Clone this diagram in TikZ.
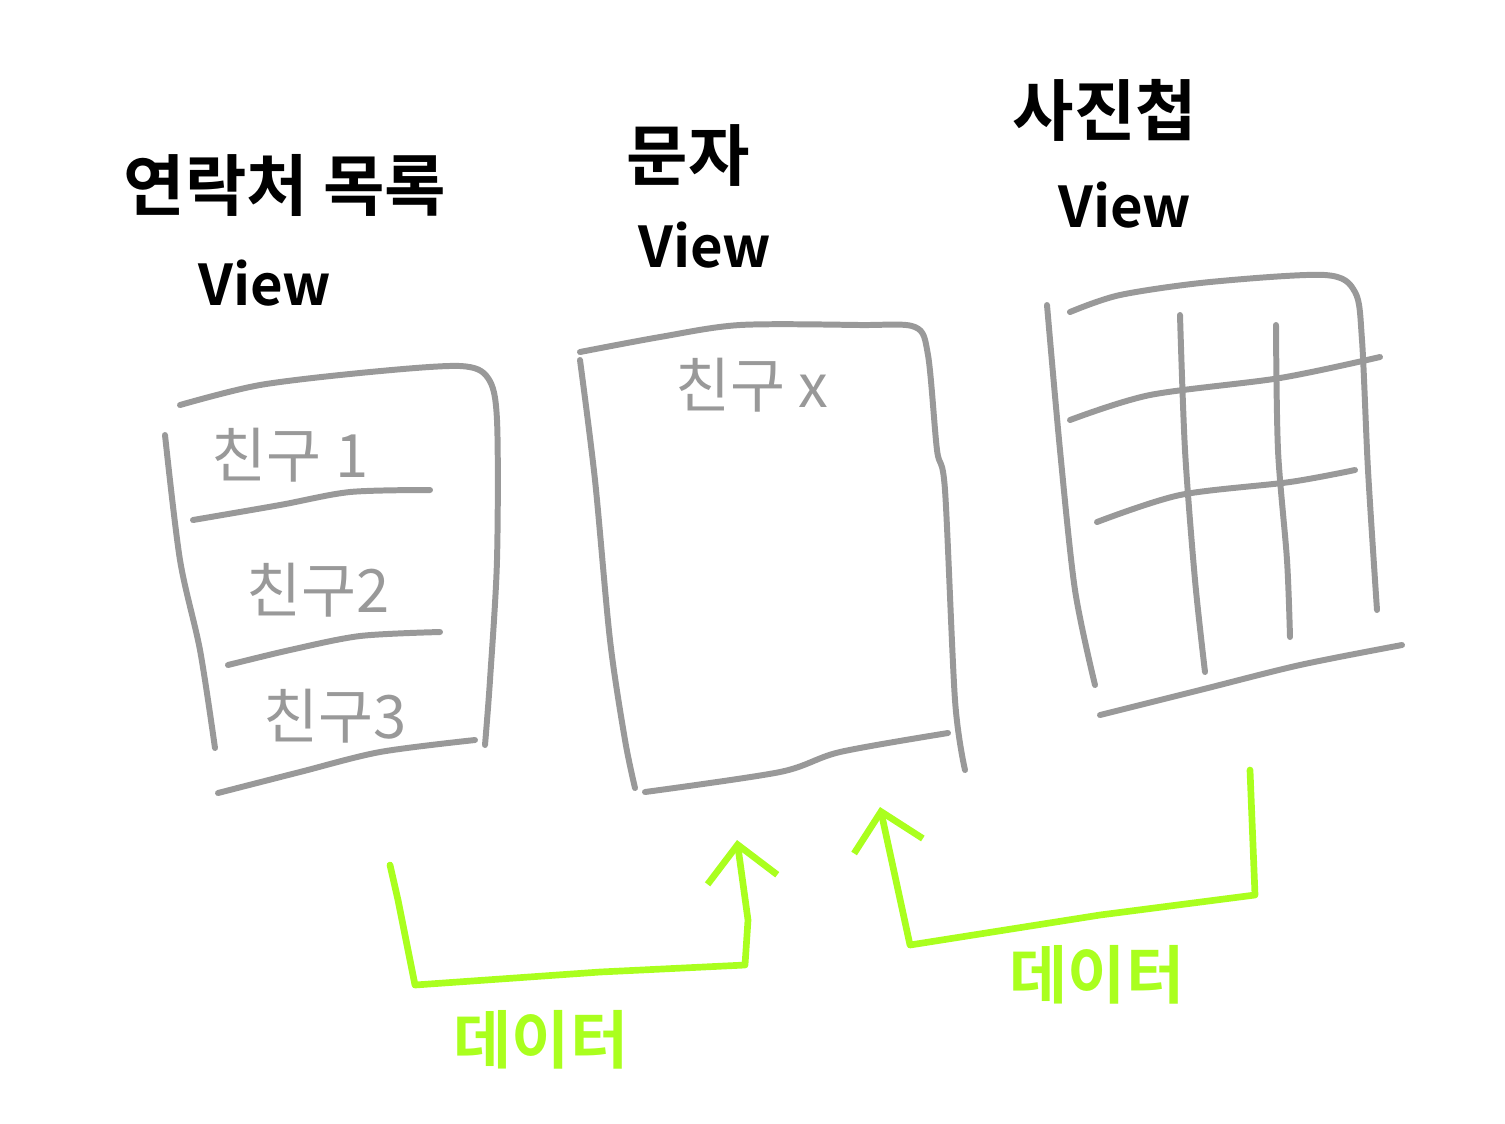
\documentclass[tikz,border=0pt]{standalone}
\usepackage{fontspec}
\setmainfont{Noto Sans CJK KR}
\newfontfamily\boldcjk{Noto Sans CJK KR Bold}
\usetikzlibrary{arrows.meta}
\definecolor{sketchgray}{HTML}{999999}
\definecolor{sketchgreen}{HTML}{AAFF1E}
\begin{document}
\begin{tikzpicture}[x=0.01cm,y=-0.01cm]
        \tikzset{
            frame/.style={draw=sketchgray,line width=1.7pt,line cap=round,line join=round},
            flow/.style={draw=sketchgreen,line width=1.9pt,line cap=round,line join=round,-{Straight Barb[length=10pt,width=20pt,line width=1.9pt]}},
            title/.style={font=\boldcjk\fontsize{19}{22}\selectfont,text=black},
            viewlbl/.style={font=\boldcjk\fontsize{16}{19}\selectfont,text=black},
            item/.style={font=\fontsize{17}{20}\selectfont,text=sketchgray},
            datalbl/.style={font=\boldcjk\fontsize{18}{21}\selectfont,text=sketchgreen}
        }
        \useasboundingbox (0,0) rectangle (1505,1123);
        % titles
        \node[title] (contactT) at (285,185) {연락처 목록};
        \node[viewlbl] (contactV) at (265,283) {View};
        \node[title] (msgT) at (688,155) {문자};
        \node[viewlbl] (msgV) at (705,245) {View};
        \node[title] (albumT) at (1105,110) {사진첩};
        \node[viewlbl] (albumV) at (1125,205) {View};
        % contact list panel
        \draw[frame] plot[smooth,tension=0.5] coordinates {(180,405) (260,385) (370,372) (460,366) (488,378) (497,420) (497,560) (490,680) (485,745)};
        \draw[frame] plot[smooth,tension=0.5] coordinates {(165,435) (180,560) (200,650) (215,748)};
        \draw[frame] plot[smooth,tension=0.5] coordinates {(193,520) (280,505) (350,492) (430,490)};
        \draw[frame] plot[smooth,tension=0.5] coordinates {(228,665) (290,650) (360,636) (440,632)};
        \draw[frame] plot[smooth,tension=0.5] coordinates {(218,793) (300,772) (380,752) (475,740)};
        \node[item] (friend1) at (290,455) {친구 1};
        \node[item] (friend2) at (318,590) {친구2};
        \node[item] (friend3) at (335,716) {친구3};
        % message panel
        \draw[frame] plot[smooth,tension=0.5] coordinates {(580,352) (660,337) (740,325) (860,325) (915,327) (928,355) (937,450) (945,490) (955,700) (965,770)};
        \draw[frame] plot[smooth,tension=0.5] coordinates {(580,360) (595,480) (610,640) (625,740) (635,788)};
        \draw[frame] plot[smooth,tension=0.5] coordinates {(645,792) (780,772) (840,752) (948,733)};
        \node[item] (friendX) at (752,385) {친구 x};
        % album panel
        \draw[frame] plot[smooth,tension=0.5] coordinates {(1070,312) (1120,295) (1210,282) (1325,275) (1355,292) (1362,340) (1368,470) (1377,610)};
        \draw[frame] plot[smooth,tension=0.5] coordinates {(1047,305) (1060,450) (1075,590) (1095,685)};
        \draw[frame] plot[smooth,tension=0.5] coordinates {(1070,420) (1150,395) (1280,378) (1380,357)};
        \draw[frame] plot[smooth,tension=0.5] coordinates {(1097,522) (1180,495) (1290,482) (1355,470)};
        \draw[frame] plot[smooth,tension=0.5] coordinates {(1100,715) (1200,690) (1300,665) (1402,645)};
        \draw[frame] plot[smooth,tension=0.5] coordinates {(1180,315) (1185,450) (1195,580) (1205,672)};
        \draw[frame] plot[smooth,tension=0.5] coordinates {(1276,325) (1278,450) (1287,560) (1290,637)};
        % data flow
        \coordinate (srcL) at (390,865);
        \coordinate (dstL) at (737,840);
        \coordinate (srcR) at (1250,770);
        \coordinate (dstR) at (880,807);
        \draw[flow] (srcL) -- (398,900) -- (415,985) -- (600,972) -- (745,965) -- (748,920) -- (dstL);
        \draw[flow] (srcR) -- (1255,895) -- (1100,915) -- (910,945) -- (dstR);
        \node[datalbl] (dataL) at (541,1040) {데이터};
        \node[datalbl] (dataR) at (1097,975) {데이터};
\end{tikzpicture}
\end{document}
